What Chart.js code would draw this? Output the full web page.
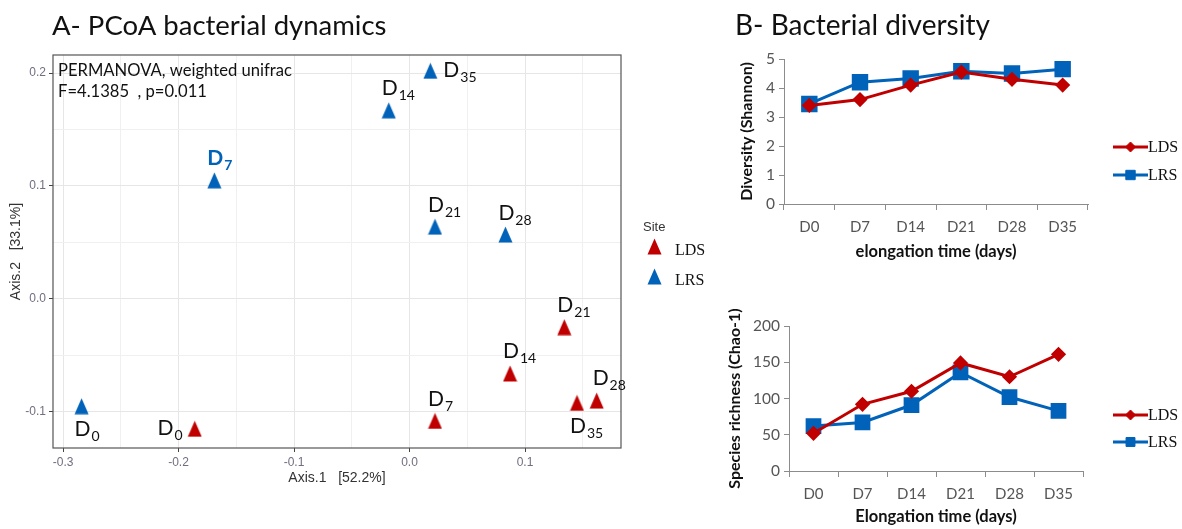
<!DOCTYPE html>
<html><head><meta charset="utf-8">
<script src="https://cdn.jsdelivr.net/npm/chart.js@4.4.1/dist/chart.umd.min.js"></script>
<style>
html,body{margin:0;padding:0;background:#fff;width:1182px;height:529px;overflow:hidden;position:relative}
canvas{position:absolute;display:block}
</style></head>
<body>
<canvas id="pcoa" width="720" height="529" style="left:0;top:0"></canvas>
<canvas id="shannon" width="462" height="280" style="left:720px;top:0"></canvas>
<canvas id="chao" width="462" height="249" style="left:720px;top:280px"></canvas>
<script>
// ---------- data ----------
const days = ['D0','D7','D14','D21','D28','D35'];
const daySubs = ['0','7','14','21','28','35'];
const ldsAxis1 = [-0.186, 0.022, 0.087, 0.134, 0.162, 0.145];
const ldsAxis2 = [-0.115, -0.108, -0.066, -0.025, -0.090, -0.092];
const lrsAxis1 = [-0.284, -0.169, -0.018, 0.022, 0.083, 0.018];
const lrsAxis2 = [-0.095, 0.105, 0.167, 0.064, 0.057, 0.202];
const ldsShannon = [3.40, 3.60, 4.10, 4.55, 4.30, 4.10];
const lrsShannon = [3.45, 4.20, 4.33, 4.58, 4.50, 4.65];
const ldsChao = [52, 92, 110, 149, 130, 161];
const lrsChao = [62, 67, 91, 136, 102, 83];
const pcoaXTicks = [-0.3,-0.25,-0.2,-0.15,-0.1,-0.05,0,0.05,0.1,0.15];
const pcoaYTicks = [-0.1,-0.05,0,0.05,0.1,0.15,0.2];
const shannonTicks = [0,1,2,3,4,5];
const chaoTicks = [0,50,100,150,200];

// ---------- styles ----------
const RED = '#c00000', BLUE = '#0062b8';
const ldsLabelPlace = ['left','above','above','above','aboveRight','below'];
const lrsLabelPlace = ['below','above','above','above','above','right'];
const lrsLabelEmph = [false,true,false,false,false,false];
const placeOffsets = {above:[-7,-15,'left'], aboveRight:[-4,-16,'left'], below:[-7,30,'left'], right:[13,6,'left'], left:[-12,6,'right']};

function triangleImg(color){
  const c = document.createElement('canvas'); c.width = 15; c.height = 17;
  const g = c.getContext('2d');
  g.fillStyle = color; g.beginPath();
  g.moveTo(7.5,0.5); g.lineTo(14.5,16.5); g.lineTo(0.5,16.5); g.closePath(); g.fill();
  return c;
}
const triRed = triangleImg(RED), triBlue = triangleImg(BLUE);
const isMajor = v => Math.abs(v*10 - Math.round(v*10)) < 1e-6;

// ---------- PCoA ----------
const pcoaDecor = {
  id:'pcoaDecor',
  afterDraw(chart){
    const ctx = chart.ctx, a = chart.chartArea;
    ctx.save();
    ctx.strokeStyle = '#555'; ctx.lineWidth = 1.2;
    ctx.strokeRect(a.left, a.top, a.right - a.left, a.bottom - a.top);
    ctx.fillStyle = '#111'; ctx.textBaseline = 'alphabetic'; ctx.textAlign = 'left';
    ctx.font = '27.5px Lato'; ctx.fillText('A- PCoA bacterial dynamics', 52, 35);
    ctx.font = '16.6px Lato';
    ctx.fillText('PERMANOVA, weighted unifrac', 58, 76);
    ctx.fillText('F=4.1385  , p=0.011', 58, 97);
    // legend
    ctx.fillStyle = '#333'; ctx.font = '13px "Liberation Sans"';
    ctx.fillText('Site', 643, 231);
    ctx.drawImage(triRed, 647, 238); ctx.drawImage(triBlue, 647, 268);
    ctx.fillStyle = '#111'; ctx.font = '16px "Liberation Serif"';
    ctx.fillText('LDS', 675, 255); ctx.fillText('LRS', 675, 285);
    // point labels
    chart.data.datasets.forEach((ds, di) => {
      const meta = chart.getDatasetMeta(di);
      meta.data.forEach((pt, i) => {
        const [dx, dy, align] = placeOffsets[ds.labelPlace[i]];
        const emph = ds.labelEmph && ds.labelEmph[i];
        const mainFont = (emph ? 'bold ' : '') + '21px Lato';
        const subFont = (emph ? 'bold ' : '') + '14px Lato';
        const sub = daySubs[i];
        ctx.font = mainFont; const wD = ctx.measureText('D').width;
        ctx.font = subFont; const wS = ctx.measureText(sub).width;
        let x0 = pt.x + dx; if (align === 'right') x0 -= wD + 1 + wS;
        const y0 = pt.y + dy;
        ctx.fillStyle = emph ? ds.borderColor : '#111';
        ctx.font = mainFont; ctx.fillText('D', x0, y0);
        ctx.font = subFont; ctx.fillText(sub, x0 + wD + 1, y0 + 5);
      });
    });
    ctx.restore();
  }
};
const gridColor = c => { const v = c.tick && c.tick.value; if (v === undefined) return 'transparent'; return isMajor(v) ? '#e6e6e6' : '#f0f0f0'; };
const tickColor = c => { const v = c.tick && c.tick.value; return (v !== undefined && isMajor(v)) ? '#444' : 'transparent'; };
new Chart(document.getElementById('pcoa'), {
  type:'scatter',
  data:{datasets:[
    {label:'LDS', data: ldsAxis1.map((x,i)=>({x, y: ldsAxis2[i]})), pointStyle: triRed, borderColor: RED, backgroundColor: RED, labelPlace: ldsLabelPlace},
    {label:'LRS', data: lrsAxis1.map((x,i)=>({x, y: lrsAxis2[i]})), pointStyle: triBlue, borderColor: BLUE, backgroundColor: BLUE, labelPlace: lrsLabelPlace, labelEmph: lrsLabelEmph}
  ]},
  options:{
    responsive:false, animation:false, devicePixelRatio:1,
    layout:{padding:{left:0, top:55, right:99, bottom:39}},
    plugins:{legend:{display:false}, tooltip:{enabled:false}},
    scales:{
      x:{type:'linear', min:-0.3087, max:0.1831,
        afterBuildTicks: s => { s.ticks = pcoaXTicks.map(v => ({value:v})); },
        afterFit: s => { s.height = 42; },
        grid:{color:gridColor, tickColor:tickColor, tickLength:4, lineWidth:1},
        border:{display:false},
        ticks:{padding:3, color:'#6f6f80', font:{family:'Liberation Sans', size:12}, maxRotation:0, autoSkip:false,
          callback: v => isMajor(v) ? v.toFixed(1) : ''},
        title:{display:true, text:'Axis.1   [52.2%]', color:'#333', font:{family:'Liberation Sans', size:14}, padding:{top:4,bottom:3}}
      },
      y:{type:'linear', min:-0.132, max:0.216,
        afterBuildTicks: s => { s.ticks = pcoaYTicks.map(v => ({value:v})); },
        afterFit: s => { s.width = 53; },
        grid:{color:gridColor, tickColor:tickColor, tickLength:4, lineWidth:1},
        border:{display:false},
        ticks:{padding:3, color:'#6f6f80', font:{family:'Liberation Sans', size:12}, autoSkip:false,
          callback: v => isMajor(v) ? v.toFixed(1) : ''},
        title:{display:true, text:'Axis.2   [33.1%]', color:'#333', font:{family:'Liberation Sans', size:14}, padding:{top:8,bottom:4}}
      }
    },
    elements:{point:{radius:8}}
  },
  plugins:[pcoaDecor]
});

// ---------- line charts ----------
function lineLegend(y1, y2, rectRadius){
  return {
    id:'lineLegend',
    afterDraw(chart){
      const ctx = chart.ctx; ctx.save();
      const items = [[RED, 'rectRot', 5, 'LDS', y1], [BLUE, 'rect', rectRadius, 'LRS', y2]];
      items.forEach(([col, style, r, txt, y]) => {
        ctx.strokeStyle = col; ctx.lineWidth = 3;
        ctx.beginPath(); ctx.moveTo(393, y); ctx.lineTo(428, y); ctx.stroke();
        ctx.fillStyle = col; ctx.strokeStyle = col; ctx.lineWidth = 1;
        Chart.helpers.drawPoint(ctx, {pointStyle: style, radius: style === 'rect' ? r*0.7 : r, rotation: 0, borderWidth: 1}, 410.5, y);
        ctx.fillStyle = '#111'; ctx.font = '16px "Liberation Serif"'; ctx.textBaseline = 'middle'; ctx.textAlign = 'left';
        ctx.fillText(txt, 428, y + 1);
      });
      ctx.restore();
    }
  };
}
function lineChart(id, lds, lrs, ticks, maxV, yTitle, xTitle, opts){
  return new Chart(document.getElementById(id), {
    type:'line',
    data:{labels: days, datasets:[
      {label:'LDS', data: lds, borderColor: RED, backgroundColor: RED, borderWidth: 3, pointStyle:'rectRot', pointRadius: 5.5, tension: 0},
      {label:'LRS', data: lrs, borderColor: BLUE, backgroundColor: BLUE, borderWidth: 3, pointStyle:'rect', pointRadius: opts.sq, tension: 0}
    ]},
    options:{
      responsive:false, animation:false, devicePixelRatio:1,
      layout:{padding: opts.pad},
      plugins:{legend:{display:false}, tooltip:{enabled:false}},
      scales:{
        x:{offset:true, afterFit: s => { s.height = opts.xh; },
          grid:{offset:true, drawOnChartArea:false, tickLength:6, tickColor:'#8c8c8c'},
          border:{display:true, color:'#8c8c8c', width:1},
          ticks:{color:'#555', font:{family:'Lato', size:15}, padding: opts.xtp, maxRotation:0},
          title:{display:true, text:xTitle, color:'#111', font:{family:'Lato', size:16.5, weight:'bold'}, padding:{top:0, bottom:opts.xtb}}
        },
        y:{min:0, max:maxV, afterFit: s => { s.width = opts.yw; },
          afterBuildTicks: s => { s.ticks = ticks.map(v => ({value:v})); },
          grid:{drawOnChartArea:false, tickLength:5, tickColor:'#8c8c8c'},
          border:{display:true, color:'#8c8c8c', width:1},
          ticks:{color:'#555', font:{family:'Lato', size:15.5}, padding:4},
          title:{display:true, text:yTitle, color:'#111', font:{family:'Lato', size:16, weight:'bold'}, padding:{top:opts.ytp, bottom:0}}
        }
      }
    },
    plugins:[lineLegend(opts.ly1, opts.ly2, opts.sq), ...(opts.extra || [])]
  });
}
const titleB = {id:'titleB', afterDraw(chart){ const c = chart.ctx; c.save(); c.fillStyle='#111'; c.font='28px Lato'; c.textBaseline='alphabetic'; c.fillText('B- Bacterial diversity', 15, 35); c.restore(); }};
lineChart('shannon', ldsShannon, lrsShannon, shannonTicks, 5, 'Diversity (Shannon)', 'elongation time (days)',
  {pad:{left:8, top:59, right:94, bottom:15}, xh:61, yw:56, xtp:8, xtb:3, ytp:9, sq:9.5, ly1:147, ly2:175, extra:[titleB]});
lineChart('chao', ldsChao, lrsChao, ticksOr(chaoTicks), 200, 'Species richness (Chao-1)', 'Elongation time (days)',
  {pad:{left:0, top:46, right:99, bottom:2}, xh:56, yw:69, xtp:8, xtb:0, ytp:5, sq:9, ly1:135, ly2:162});
function ticksOr(t){ return t; }
</script>
</body></html>
